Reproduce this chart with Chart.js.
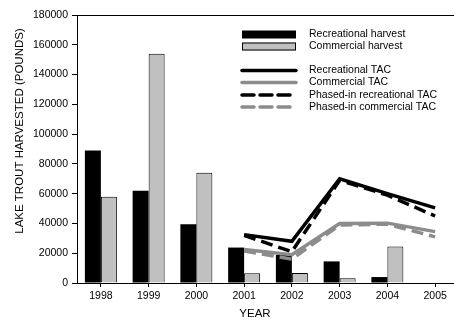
<!DOCTYPE html>
<html>
<head>
<meta charset="utf-8">
<script src="https://cdn.jsdelivr.net/npm/chart.js@4/dist/chart.umd.min.js"></script>
<style>
  html, body { margin: 0; padding: 0; background: #fff; overflow: hidden; }
  #wrap { width: 454px; height: 320px; overflow: hidden; position: relative; }
  canvas { display: block; }
</style>
</head>
<body>
<div id="wrap"><canvas id="c" width="462" height="320"></canvas></div>
<script>
const years = ['1998', '1999', '2000', '2001', '2002', '2003', '2004', '2005'];
const recreationalHarvest = [89000, 62000, 39500, 23800, 19000, 14500, 4000, null];
const commercialHarvest = [58000, 154000, 74000, 6500, 6800, 3200, 24500, null];
const recreationalTAC = [null, null, null, 32500, 28000, 70000, 60000, 50500];
const commercialTAC = [null, null, null, 22500, 19000, 40000, 40200, 34500];
const phasedRecreationalTAC = [null, null, null, 32000, 21000, 69000, 59000, 45000];
const phasedCommercialTAC = [null, null, null, 21500, 16000, 39000, 39500, 31000];
const yTicks = [0, 20000, 40000, 60000, 80000, 100000, 120000, 140000, 160000, 180000];
const xTitle = 'YEAR';
const yTitle = 'LAKE TROUT HARVESTED (POUNDS)';

const FONT = 'Arial, "Liberation Sans", sans-serif';
const GRAY = '#c0c0c0';
const LGRAY = '#8c8c8c';

const extras = {
  id: 'extras',
  afterDraw(chart) {
    const ctx = chart.ctx;
    const a = chart.chartArea;
    ctx.save();
    ctx.strokeStyle = '#000';
    ctx.lineWidth = 1;
    ctx.beginPath();
    ctx.moveTo(a.left, Math.round(a.top) + 0.5);
    ctx.lineTo(chart.width, Math.round(a.top) + 0.5);
    ctx.stroke();
    ctx.fillStyle = '#000';
    ctx.font = '11.5px ' + FONT;
    ctx.textAlign = 'center';
    ctx.textBaseline = 'middle';
    ctx.fillText(xTitle, 255, 314);
    ctx.translate(20, 131);
    ctx.rotate(-Math.PI / 2);
    ctx.fillText(yTitle, 0, 0);
    ctx.restore();

    ctx.save();
    ctx.font = '10.5px ' + FONT;
    ctx.textBaseline = 'middle';
    ctx.textAlign = 'left';
    const ds = chart.data.datasets;
    const rows = [34.5, 46.5, 70.5, 82.5, 95, 107];
    ds.forEach((d, i) => {
      const y = rows[i];
      if (d.type === 'bar') {
        ctx.fillStyle = d.backgroundColor;
        ctx.fillRect(242, y - 4, 54, 8);
        if (d.borderWidth) {
          ctx.strokeStyle = '#000';
          ctx.lineWidth = 1;
          ctx.strokeRect(242.5, y - 3.5, 53, 7);
        }
      } else {
        ctx.strokeStyle = d.borderColor;
        ctx.lineWidth = 3.5;
        ctx.lineCap = 'round';
        ctx.setLineDash(d.borderDash && d.borderDash.length ? [12, 6] : []);
        ctx.beginPath();
        ctx.moveTo(242, y);
        ctx.lineTo(296, y);
        ctx.stroke();
        ctx.setLineDash([]);
      }
      ctx.fillStyle = '#000';
      ctx.fillText(d.label, 309, y);
    });
    ctx.restore();
  }
};

new Chart(document.getElementById('c'), {
  data: {
    labels: years,
    datasets: [
      { type: 'bar', label: 'Recreational harvest', data: recreationalHarvest,
        backgroundColor: '#000', borderWidth: 0, order: 3,
        categoryPercentage: 0.67, barPercentage: 1.0 },
      { type: 'bar', label: 'Commercial harvest', data: commercialHarvest,
        backgroundColor: GRAY, borderColor: '#000', borderWidth: 1, order: 3,
        categoryPercentage: 0.67, barPercentage: 1.0 },
      { type: 'line', label: 'Recreational TAC', data: recreationalTAC,
        borderColor: '#000', borderWidth: 3.5, pointRadius: 0, tension: 0, order: 2, fill: false },
      { type: 'line', label: 'Commercial TAC', data: commercialTAC,
        borderColor: LGRAY, borderWidth: 3.5, pointRadius: 0, tension: 0, order: 2, fill: false },
      { type: 'line', label: 'Phased-in recreational TAC', data: phasedRecreationalTAC,
        borderColor: '#000', borderWidth: 3.5, borderDash: [12, 6], pointRadius: 0, tension: 0, order: 1, fill: false },
      { type: 'line', label: 'Phased-in commercial TAC', data: phasedCommercialTAC,
        borderColor: LGRAY, borderWidth: 3.5, borderDash: [12, 6], pointRadius: 0, tension: 0, order: 1, fill: false }
    ]
  },
  options: {
    responsive: false,
    animation: false,
    events: [],
    layout: { padding: { left: 0, right: 3, top: 15, bottom: 0 } },
    plugins: { legend: { display: false }, tooltip: { enabled: false } },
    scales: {
      x: {
        type: 'category',
        grid: { display: true, drawOnChartArea: false, drawTicks: true, tickLength: 4, color: '#000', offset: false },
        border: { display: true, color: '#000', width: 1 },
        ticks: { color: '#000', font: { family: FONT, size: 10.5 }, padding: 3, maxRotation: 0, autoSkip: false },
        afterFit(scale) { scale.height = 37; }
      },
      y: {
        min: 0, max: 180000,
        afterBuildTicks(scale) { scale.ticks = yTicks.map(v => ({ value: v })); },
        grid: { display: true, drawOnChartArea: false, drawTicks: true, tickLength: 5, color: '#000' },
        border: { display: true, color: '#000', width: 1 },
        ticks: { color: '#000', font: { family: FONT, size: 10.5 }, padding: 4, callback: (v) => String(v) },
        afterFit(scale) { scale.width = 77; }
      }
    }
  },
  plugins: [extras]
});
</script>
</body>
</html>
